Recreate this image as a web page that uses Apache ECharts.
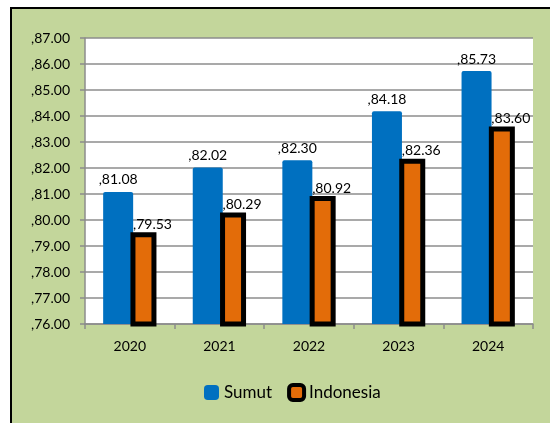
<!DOCTYPE html>
<html>
<head>
<meta charset="utf-8">
<script src="https://cdn.jsdelivr.net/npm/echarts@6/dist/echarts.min.js"></script>
<style>
  html, body { margin: 0; padding: 0; background: #fff; width: 550px; height: 423px; overflow: hidden; }
  #frame {
    position: absolute; left: 10px; top: 7px;
    width: 538px; height: 414px;
    border-left: 2px solid #000; border-top: 2px solid #000;
  }
  #chart { width: 538px; height: 414px; }
</style>
</head>
<body>
<div id="frame"><div id="chart"></div></div>
<script>
const years = ['2020', '2021', '2022', '2023', '2024']
const sumut = [81.08, 82.02, 82.30, 84.18, 85.73]
const indonesia = [79.53, 80.29, 80.92, 82.36, 83.60]

const fontFamily = 'Lato, "Open Sans", sans-serif'
const fmt = v => ',' + Number(v).toFixed(2)

const chart = echarts.init(document.getElementById('chart'))

const option = {
  backgroundColor: '#C3D69B',
  animation: false,
  textStyle: { fontFamily },
  legend: {
    left: 187,
    top: 369,
    itemWidth: 15,
    itemHeight: 15,
    itemGap: 15,
    textStyle: { fontSize: 17, color: '#000', fontFamily },
    data: [
      { name: 'Sumut', itemStyle: { borderRadius: 3 } },
      { name: 'Indonesia', itemStyle: { borderWidth: 4, borderRadius: 3 } }
    ]
  },
  grid: {
    left: 73,
    right: 17,
    top: 29,
    bottom: 99,
    show: true,
    backgroundColor: '#fff',
    borderWidth: 0
  },
  xAxis: {
    type: 'category',
    data: years,
    axisLine: { lineStyle: { color: '#8c8c8c', width: 1.5 } },
    axisTick: { show: true, length: 5, lineStyle: { color: '#8c8c8c', width: 1.5 } },
    axisLabel: { color: '#000', fontSize: 14, margin: 15, fontFamily }
  },
  yAxis: {
    type: 'value',
    min: 76,
    max: 87,
    interval: 1,
    axisLine: { show: true, lineStyle: { color: '#8c8c8c', width: 1.5 } },
    axisTick: { show: true, length: 5, lineStyle: { color: '#8c8c8c', width: 1.5 } },
    splitLine: { lineStyle: { color: '#8c8c8c', width: 1.5 } },
    axisLabel: { color: '#000', fontSize: 14, margin: 15, fontFamily, formatter: fmt }
  },
  series: [
    {
      name: 'Sumut',
      type: 'bar',
      data: sumut,
      barWidth: 30,
      barGap: '-9%',
      itemStyle: { color: '#0070C0', borderRadius: [2, 2, 0, 0] },
      label: {
        show: true,
        position: 'top',
        distance: 5,
        color: '#000',
        fontSize: 14,
        fontFamily,
        formatter: p => fmt(p.value)
      }
    },
    {
      name: 'Indonesia',
      type: 'bar',
      data: indonesia,
      barWidth: 26,
      itemStyle: { color: '#E36C09', borderColor: '#000', borderWidth: 5 },
      label: {
        show: true,
        position: 'top',
        distance: 1,
        offset: [9, 0],
        color: '#000',
        fontSize: 14,
        fontFamily,
        formatter: p => fmt(p.value)
      }
    }
  ]
}

chart.setOption(option)
</script>
</body>
</html>
